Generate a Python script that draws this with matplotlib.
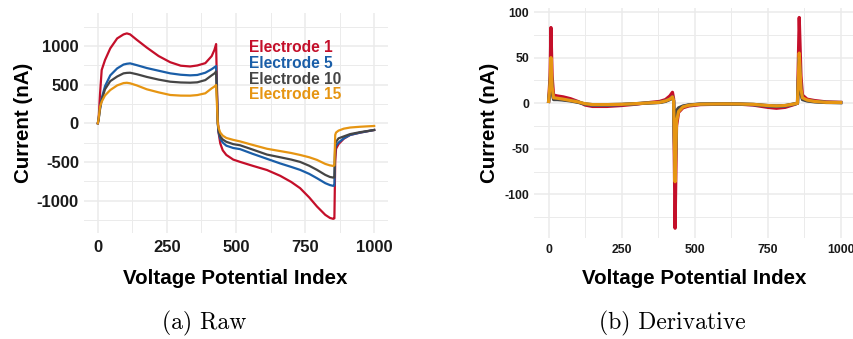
import matplotlib
matplotlib.use("Agg")
import matplotlib.pyplot as plt
from matplotlib.ticker import MultipleLocator

plt.rcParams['font.family'] = ['Liberation Sans', 'DejaVu Sans']
plt.rcParams['axes.unicode_minus'] = False

# raw current traces (nA) against voltage potential index
x_raw = [0, 3, 8, 14, 26, 45, 70, 93, 105, 117, 141, 177, 220, 262, 300, 334, 360, 389, 412, 422,
         428, 431, 434, 437, 443, 452, 465, 490, 515, 560, 612, 660, 700, 732, 765, 793, 823, 840,
         852, 856, 859, 862, 871, 890, 913, 949, 1000]
raw_e1 = [0, 60, 380, 689, 818, 969, 1098, 1150, 1163, 1150, 1080, 980, 870, 790, 745, 735, 748, 778,
          869, 950, 1025, 500, 50, -120, -260, -350, -410, -470, -500, -550, -605, -680, -760, -840,
          -960, -1077, -1185, -1225, -1237, -1230, -500, -330, -270, -200, -151, -121, -87]
raw_e5 = [0, 60, 200, 323, 480, 620, 710, 760, 770, 775, 752, 715, 680, 646, 628, 620, 625, 654, 700,
          725, 740, 400, 0, -120, -200, -250, -290, -320, -335, -395, -460, -520, -565, -603, -655,
          -711, -775, -800, -810, -805, -320, -290, -250, -195, -151, -121, -87]
raw_e10 = [0, 50, 180, 301, 440, 545, 605, 646, 652, 654, 635, 600, 565, 538, 528, 525, 530, 559, 620,
           645, 670, 350, 0, -100, -170, -210, -240, -270, -285, -340, -405, -440, -470, -500, -550,
           -603, -668, -695, -703, -700, -270, -240, -195, -170, -140, -115, -87]
raw_e15 = [0, 60, 215, 279, 360, 430, 490, 520, 524, 517, 490, 440, 400, 366, 358, 357, 365, 388, 452,
           475, 495, 250, 0, -60, -120, -160, -190, -215, -235, -280, -330, -360, -385, -410, -440,
           -474, -526, -545, -552, -545, -151, -120, -95, -70, -55, -45, -35]

# first derivative of the same traces
x_der = [0, 5, 8, 12, 17, 30, 50, 75, 100, 125, 150, 200, 250, 300, 350, 380, 400, 415, 424, 428,
         433, 438, 445, 460, 480, 520, 600, 650, 700, 750, 780, 810, 840, 852, 858, 864, 869, 885,
         910, 950, 1000]
der_e1 = [2, 30, 83, 30, 9, 8, 7, 5, 2, -2, -3.5, -3.5, -2.5, -1, 1, 2, 4, 8, 12, 5, -137, -25, -10,
          -5, -3, -1.5, -1, -1, -2, -4.5, -5.5, -4.5, -1.5, 0, 94, 30, 9, 4.5, 3, 1.5, 1]
der_e5 = [2, 18, 45, 15, 5, 5, 4, 3, 1.5, -1, -2, -2, -1.5, -0.5, 0.5, 1, 2.5, 4.5, 7, 3, -80, -15,
          -7, -3.5, -2, -1, -0.8, -1, -1.5, -3, -3.5, -3, -1, 0, 50, 15, 5, 3, 2, 1, 0.8]
der_e10 = [2, 15, 38, 12, 4, 4, 3.5, 2.5, 1, -0.8, -1.5, -1.5, -1.2, -0.4, 0.4, 0.8, 2, 4, 6, 2.5,
           -70, -8, -5, -3, -1.8, -0.8, -0.6, -0.8, -1.2, -2.5, -3, -2.5, -0.8, 0, 45, 10, 4, 2.5,
           1.5, 0.8, 0.6]
der_e15 = [2, 22, 50, 18, 6, 5.5, 4.5, 3, 1.5, -0.5, -1.5, -1.5, -1.2, -0.4, 0.5, 1, 2.5, 4.5, 7, 3,
           -86, -20, -9, -4, -2.2, -1, -0.7, -0.8, -1.2, -2.5, -3, -2.5, -0.8, 0, 55, 16, 6, 3.5, 2,
           1, 0.8]

names = ['Electrode 1', 'Electrode 5', 'Electrode 10', 'Electrode 15']
colors = ['#C40F2A', '#1A5EA8', '#454545', '#E69512']

W, H = 854, 339
fig = plt.figure(figsize=(W / 100, H / 100), dpi=100)


def px_axes(x0, y0, x1, y1):
    return fig.add_axes([x0 / W, 1 - y1 / H, (x1 - x0) / W, (y1 - y0) / H])


def style(ax, size, pad_x, pad_y, ymaj, ymin):
    ax.set_xlim(-50, 1050)
    ax.xaxis.set_major_locator(MultipleLocator(250))
    ax.xaxis.set_minor_locator(MultipleLocator(125))
    ax.yaxis.set_major_locator(MultipleLocator(ymaj))
    ax.yaxis.set_minor_locator(MultipleLocator(ymin))
    ax.grid(which='major', color='#EBEBEB', lw=1.1)
    ax.grid(which='minor', color='#EBEBEB', lw=0.7)
    ax.set_axisbelow(True)
    for s in ax.spines.values():
        s.set_visible(False)
    ax.tick_params(which='both', length=0)
    ax.tick_params(axis='x', pad=pad_x, labelsize=size)
    ax.tick_params(axis='y', pad=pad_y, labelsize=size)
    for lab in ax.get_xticklabels() + ax.get_yticklabels():
        lab.set_fontweight('bold')
        lab.set_color('#1A1A1A')


# (a) raw
ax1 = px_axes(84, 13, 388, 233)
for y, c in zip([raw_e1, raw_e5, raw_e10, raw_e15], colors):
    ax1.plot(x_raw, y, color=c, lw=1.6, solid_joinstyle='round')
ax1.set_ylim(-1420, 1427)
style(ax1, 12, 5, 3.6, 500, 250)

for i, (n, c) in enumerate(zip(names, colors)):
    fig.text(249 / W, 1 - (52.3 + 15.7 * i) / H, n, color=c, fontsize=11.2,
             fontweight='bold', ha='left', va='baseline')

# (b) derivative
ax2 = px_axes(534, 8, 855.3, 238)
for y, c in zip([der_e1, der_e5, der_e10, der_e15], colors):
    ax2.plot(x_der, y, color=c, lw=2.3, solid_joinstyle='round')
ax2.set_ylim(-147.7, 104.4)
style(ax2, 8.8, 4.5, 3.4, 50, 25)

# axis titles
for cx, cy in [(235.5, 278), (694, 278)]:
    fig.text(cx / W, 1 - cy / H, 'Voltage Potential Index', fontsize=14.8,
             fontweight='bold', ha='center', va='center')
for cx, cy in [(23.3, 123), (490, 122.5)]:
    fig.text(cx / W, 1 - cy / H, 'Current (nA)', fontsize=14.8, fontweight='bold',
             rotation=90, ha='center', va='center')

# sub-captions
fig.text(204 / W, 1 - 323 / H, '(a) Raw', fontsize=17, family='cmr10',
         ha='center', va='center')
fig.text(672 / W, 1 - 323 / H, '(b) Derivative', fontsize=17, family='cmr10',
         ha='center', va='center')

fig.savefig('out.png', dpi=100)
